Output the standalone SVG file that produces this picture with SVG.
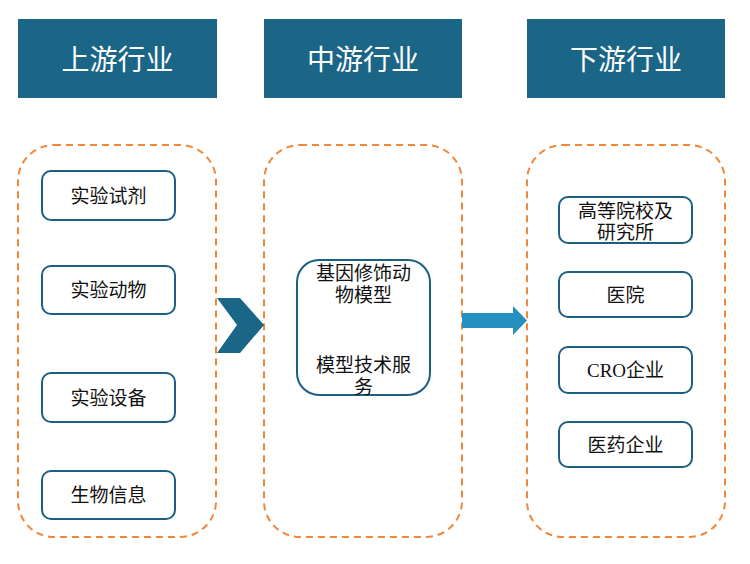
<svg xmlns="http://www.w3.org/2000/svg" width="750" height="564" viewBox="0 0 750 564">
<style>
.hdr{fill:#1b6587;}
.ht{font-family:"Liberation Serif","Noto Sans CJK SC",serif;font-size:28px;fill:#ffffff;text-anchor:middle;}
.grp{fill:none;stroke:#f0873a;stroke-width:2;stroke-dasharray:7,5;}
.box{fill:#ffffff;stroke:#1d5f80;stroke-width:2;}
.t{font-family:"Liberation Serif","Noto Sans CJK SC",serif;font-size:19px;fill:#111111;text-anchor:middle;}
</style>
<rect width="750" height="564" fill="#ffffff"/>
<g id="hdr-up"><rect class="hdr" x="18" y="19" width="199" height="79"/><text class="ht" x="117.5" y="70">上游行业</text></g>
<g id="hdr-mid"><rect class="hdr" x="264" y="19" width="198" height="79"/><text class="ht" x="363" y="70">中游行业</text></g>
<g id="hdr-down"><rect class="hdr" x="527" y="19" width="198" height="79"/><text class="ht" x="626" y="70">下游行业</text></g>
<g id="grp-up"><rect class="grp" x="18" y="145" width="198" height="392" rx="36"/></g>
<g id="grp-mid"><rect class="grp" x="264" y="145" width="198" height="392" rx="36"/></g>
<g id="grp-down"><rect class="grp" x="527" y="145" width="198" height="392" rx="36"/></g>
<g id="u1"><rect class="box" x="42" y="171" width="133" height="49" rx="9"/><text class="t" x="108.5" y="203">实验试剂</text></g>
<g id="u2"><rect class="box" x="42" y="266" width="133" height="48" rx="9"/><text class="t" x="108.5" y="297">实验动物</text></g>
<g id="u3"><rect class="box" x="42" y="373" width="133" height="49" rx="9"/><text class="t" x="108.5" y="405">实验设备</text></g>
<g id="u4"><rect class="box" x="42" y="471" width="133" height="48" rx="9"/><text class="t" x="108.5" y="502">生物信息</text></g>
<g id="m1"><rect class="box" x="297" y="260" width="133" height="135" rx="22"/>
<text class="t" x="363.5" y="280">基因修饰动</text><text class="t" x="363.5" y="302">物模型</text>
<text class="t" x="363.5" y="372">模型技术服</text><text class="t" x="363.5" y="394">务</text></g>
<g id="d1"><rect class="box" x="559" y="197" width="133" height="46" rx="9"/><text class="t" x="625.5" y="218">高等院校及</text><text class="t" x="625.5" y="239">研究所</text></g>
<g id="d2"><rect class="box" x="559" y="272" width="133" height="45" rx="9"/><text class="t" x="625.5" y="302">医院</text></g>
<g id="d3"><rect class="box" x="559" y="347" width="133" height="46" rx="9"/><text class="t" x="625.5" y="377">CRO企业</text></g>
<g id="d4"><rect class="box" x="559" y="422" width="133" height="45" rx="9"/><text class="t" x="625.5" y="452">医药企业</text></g>
<g id="connectors">
<polygon points="217,298 240,298 264,325 240,353 217,353 237,325" fill="#1b6587"/>
<polygon points="462,313 513,313 513,306 527,320.5 513,335 513,328 462,328" fill="#2590c0"/>
</g>
</svg>
